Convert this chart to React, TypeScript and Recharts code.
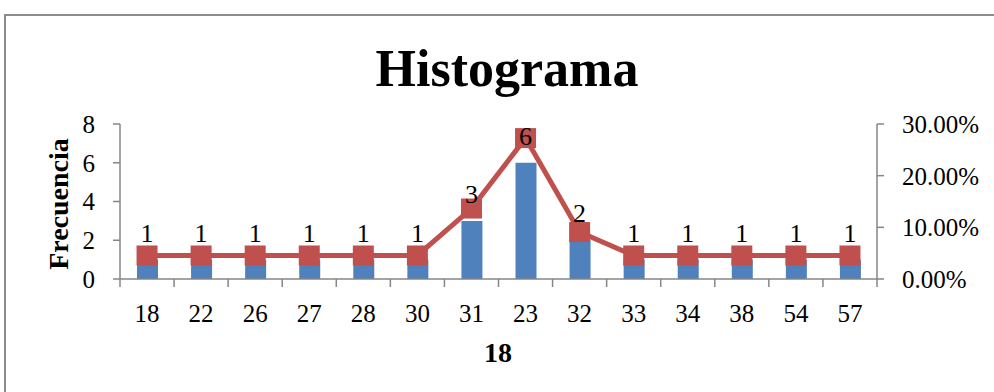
import React from "react";
import {
  ComposedChart,
  Bar,
  Line,
  XAxis,
  YAxis,
  LabelList,
} from "recharts";

const edades = ["18", "22", "26", "27", "28", "30", "31", "23", "32", "33", "34", "38", "54", "57"];
const frecuencia = [1, 1, 1, 1, 1, 1, 3, 6, 2, 1, 1, 1, 1, 1];
const porcentaje = [4.55, 4.55, 4.55, 4.55, 4.55, 4.55, 13.64, 27.27, 9.09, 4.55, 4.55, 4.55, 4.55, 4.55];
const ticksFrecuencia = [0, 2, 4, 6, 8];
const ticksPorcentaje = [0, 10, 20, 30];

const W = 994;
const H = 392;
const MARGIN = { top: 124, right: 0, bottom: 0, left: 0 };
const LEFT_W = 120;
const RIGHT_W = 117;
const PLOT_BOTTOM = 279;
const BAND = (W - LEFT_W - RIGHT_W) / edades.length;

const FONT = "'Liberation Serif', 'Times New Roman', serif";
const AXIS_GRAY = "#868686";
const AZUL = "#4F81BD";
const ROJO = "#C0504D";

const data = edades.map((e, i) => ({
  edad: e,
  frecuencia: frecuencia[i],
  porcentaje: porcentaje[i],
}));

function XTick(props: any) {
  const { x, payload, index } = props;
  const left = x - BAND / 2;
  const right = x + BAND / 2;
  return (
    <g>
      <line x1={left} y1={PLOT_BOTTOM} x2={left} y2={PLOT_BOTTOM + 8} stroke={AXIS_GRAY} strokeWidth={1.5} />
      {index === edades.length - 1 && (
        <line x1={right} y1={PLOT_BOTTOM} x2={right} y2={PLOT_BOTTOM + 8} stroke={AXIS_GRAY} strokeWidth={1.5} />
      )}
      <text x={x} y={PLOT_BOTTOM + 43} textAnchor="middle" fontFamily={FONT} fontSize={25} fill="#000">
        {payload.value}
      </text>
    </g>
  );
}

function SquareDot(props: any) {
  const { cx, cy } = props;
  if (cx == null || cy == null) return null;
  return <rect x={cx - 10.5} y={cy - 10} width={21} height={20} fill={ROJO} />;
}

export default function App() {
  return (
    <div style={{ position: "absolute", left: 0, top: 0, width: W, height: H, background: "#fff" }}>
      <div
        style={{
          position: "absolute",
          left: 4,
          top: 14,
          width: W - 4,
          height: H - 14,
          borderTop: "2px solid #8c8c8c",
          borderLeft: "2px solid #8c8c8c",
          boxSizing: "border-box",
        }}
      />
      <ComposedChart
        width={W}
        height={H}
        data={data}
        margin={MARGIN}
        barCategoryGap={0}
        style={{ position: "absolute", left: 0, top: 0 }}
      >
        <XAxis
          dataKey="edad"
          xAxisId="x"
          height={H - PLOT_BOTTOM}
          axisLine={{ stroke: AXIS_GRAY, strokeWidth: 1.5 }}
          tickLine={false}
          tick={<XTick />}
          interval={0}
        />
        <YAxis
          yAxisId="left"
          width={LEFT_W}
          domain={[0, 8]}
          ticks={ticksFrecuencia}
          axisLine={{ stroke: AXIS_GRAY, strokeWidth: 1.5 }}
          tickLine={{ stroke: AXIS_GRAY, strokeWidth: 1.5 }}
          tickSize={7}
          tickMargin={18}
          tick={{ fontFamily: FONT, fontSize: 25, fill: "#000" }}
        />
        <YAxis
          yAxisId="right"
          orientation="right"
          width={RIGHT_W}
          domain={[0, 30]}
          ticks={ticksPorcentaje}
          tickFormatter={(v: number) => v.toFixed(2) + "%"}
          axisLine={{ stroke: AXIS_GRAY, strokeWidth: 1.5 }}
          tickLine={{ stroke: AXIS_GRAY, strokeWidth: 1.5 }}
          tickSize={7}
          tickMargin={18}
          tick={{ fontFamily: FONT, fontSize: 25, fill: "#000", textAnchor: "start" }}
        />
        <Bar
          xAxisId="x"
          yAxisId="left"
          dataKey="frecuencia"
          fill={AZUL}
          barSize={21}
          isAnimationActive={false}
        />
        <Line
          xAxisId="x"
          yAxisId="right"
          dataKey="porcentaje"
          stroke={ROJO}
          strokeWidth={5}
          dot={<SquareDot />}
          activeDot={false}
          isAnimationActive={false}
        />
        {/* etiquetas de la frecuencia, encima de todo */}
        <Line
          xAxisId="x"
          yAxisId="left"
          dataKey="frecuencia"
          stroke="none"
          dot={false}
          activeDot={false}
          isAnimationActive={false}
        >
          <LabelList
            dataKey="frecuencia"
            position="top"
            offset={18}
            style={{ fontFamily: FONT, fontSize: 26, fill: "#000" }}
          />
        </Line>
      </ComposedChart>
      <svg width={W} height={H} style={{ position: "absolute", left: 0, top: 0, pointerEvents: "none" }}>
        <text x={507} y={86} textAnchor="middle" fontFamily={FONT} fontWeight="bold" fontSize={52} fill="#000">
          Histograma
        </text>
        <text
          x={68}
          y={204}
          textAnchor="middle"
          transform="rotate(-90 68 204)"
          fontFamily={FONT}
          fontWeight="bold"
          fontSize={28}
          fill="#000"
        >
          Frecuencia
        </text>
        <text x={498} y={362} textAnchor="middle" fontFamily={FONT} fontWeight="bold" fontSize={28} fill="#000">
          18
        </text>
      </svg>
    </div>
  );
}
